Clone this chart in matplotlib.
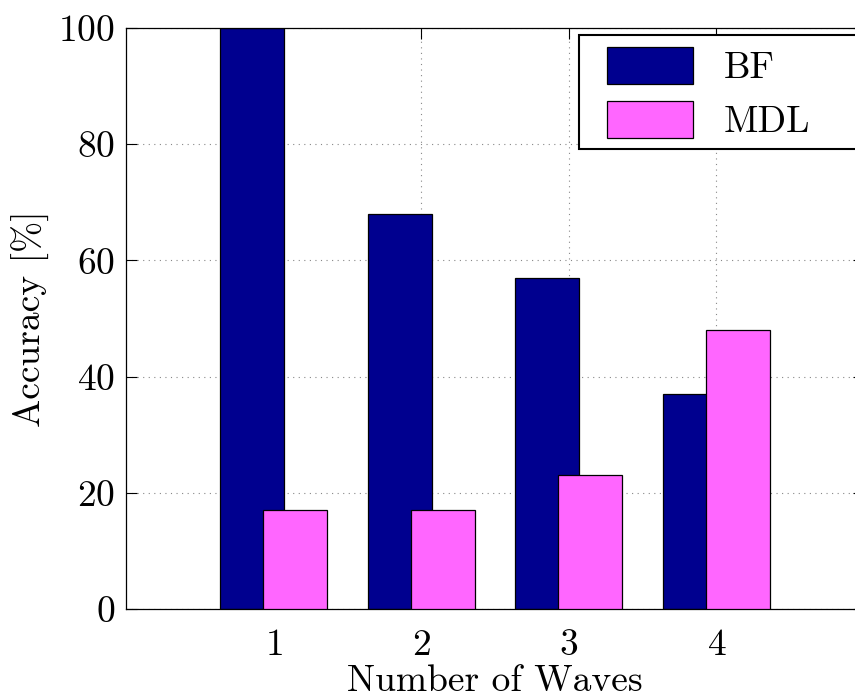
import numpy as np
import matplotlib
matplotlib.use("Agg")
import matplotlib.pyplot as plt
from matplotlib.patches import Rectangle

# data
waves = [1, 2, 3, 4]
bf_acc = [100, 68, 57, 37]
mdl_acc = [17, 17, 23, 48]
series_names = ["BF", "MDL"]

plt.rcParams['font.family'] = ['cmr10', 'DejaVu Serif']
plt.rcParams['mathtext.fontset'] = 'cm'
plt.rcParams['axes.formatter.use_mathtext'] = True

fs = 27

fig = plt.figure(figsize=(8.55, 6.97), dpi=100)
# axes runs a little past the right edge of the picture, as in the reference
ax = fig.add_axes([126 / 855, 1 - 609 / 697, 738 / 855, 581 / 697])


def px2ax(px, py):
    # reference pixel -> axes fraction
    return (px - 126) / 738, (609 - py) / 581


x = np.array(waves)
width = 0.433
offset = 0.145
ax.bar(x - offset, bf_acc, width, color='#00008F', edgecolor='black',
       linewidth=0.9, label=series_names[0], zorder=2)
ax.bar(x + offset, mdl_acc, width, color='#FF66FF', edgecolor='black',
       linewidth=0.9, label=series_names[1], zorder=3)

ax.set_xlim(0, 5)
ax.set_ylim(0, 100)
ax.set_xticks(waves)
ax.set_yticks([0, 20, 40, 60, 80, 100])
ax.tick_params(direction='in', length=8, width=0.8, top=True, right=True,
               labelsize=fs)
ax.tick_params(axis='x', pad=14)
ax.tick_params(axis='y', pad=8)
ax.grid(True, linestyle=(0, (1, 4)), color='#888888', linewidth=0.8, zorder=0)
ax.set_axisbelow(True)
for s in ax.spines.values():
    s.set_linewidth(0.9)

ax.set_xlabel("Number of Waves", fontsize=fs, labelpad=2)
ax.set_ylabel("Accuracy [%]", fontsize=fs, labelpad=6)

# legend box runs off the right edge like in the reference, so the frame
# is drawn by hand and the legend entries sit inside it
x0, y0 = px2ax(579, 149)
x1, y1 = px2ax(880, 35)
ax.add_patch(Rectangle((x0, y0), x1 - x0, y1 - y0, transform=ax.transAxes,
                       facecolor='white', edgecolor='black', linewidth=1.5,
                       clip_on=False, zorder=4))
leg = ax.legend(loc='upper left', bbox_to_anchor=px2ax(607, 47),
                fontsize=fs, frameon=False,
                handlelength=2.3, handleheight=1.15, handletextpad=0.8,
                borderpad=0, labelspacing=0.42, borderaxespad=0)
leg.set_zorder(5)

fig.savefig("out.png", dpi=100)
